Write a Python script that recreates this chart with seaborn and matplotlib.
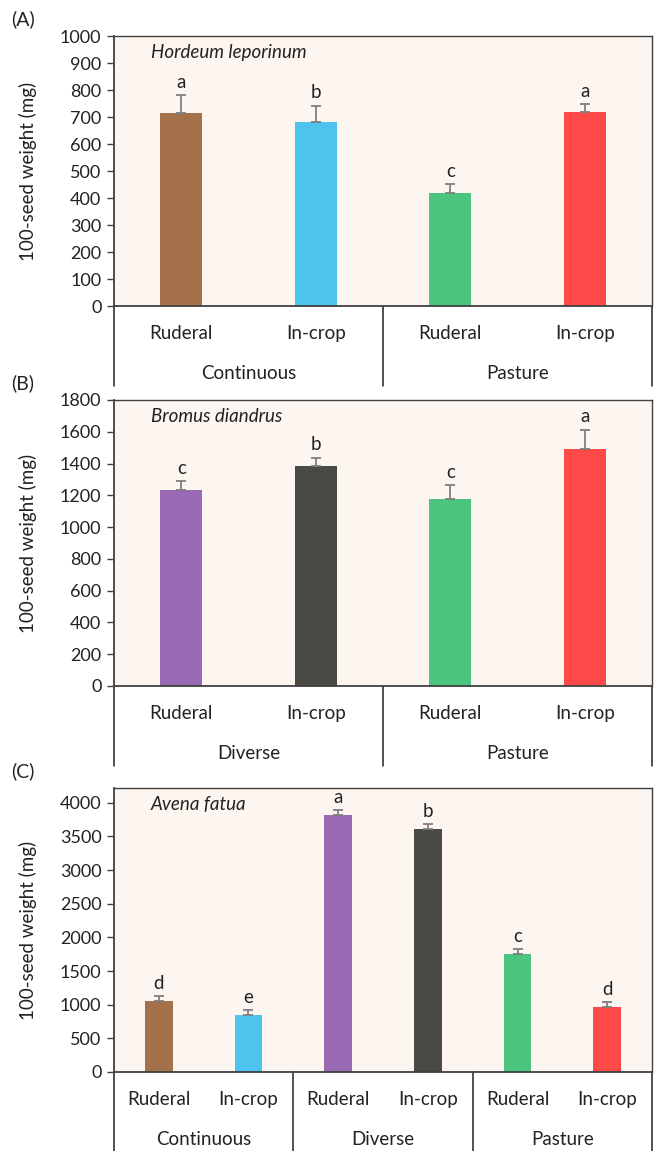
import matplotlib
matplotlib.use("Agg")
import matplotlib.pyplot as plt
import matplotlib.transforms as mtransforms
from matplotlib.lines import Line2D
import seaborn as sns
import pandas as pd

# ---------------- data ----------------
types_A = ["Ruderal", "In-crop", "Ruderal", "In-crop"]
groups_A = ["Continuous", "Pasture"]
values_A = [715, 681, 420, 719]
errors_A = [65, 61, 32, 29]
letters_A = ["a", "b", "c", "a"]
colors_A = ["#A5714A", "#4CC4EE", "#4AC47E", "#FF4848"]

types_B = ["Ruderal", "In-crop", "Ruderal", "In-crop"]
groups_B = ["Diverse", "Pasture"]
values_B = [1232, 1382, 1177, 1493]
errors_B = [60, 56, 88, 121]
letters_B = ["c", "b", "c", "a"]
colors_B = ["#9A6BB5", "#4A4A45", "#4AC47E", "#FF4848"]

types_C = ["Ruderal", "In-crop", "Ruderal", "In-crop", "Ruderal", "In-crop"]
groups_C = ["Continuous", "Diverse", "Pasture"]
values_C = [1059, 847, 3823, 3611, 1759, 961]
errors_C = [64, 79, 64, 79, 64, 83]
letters_C = ["d", "e", "a", "b", "c", "d"]
colors_C = ["#A5714A", "#4CC4EE", "#9A6BB5", "#4A4A45", "#4AC47E", "#FF4848"]

species = ["Hordeum leporinum", "Bromus diandrus", "Avena fatua"]
panel_tags = ["(A)", "(B)", "(C)"]
yticks_A = list(range(0, 1001, 100))
yticks_B = list(range(0, 1801, 200))
yticks_C = list(range(0, 4001, 500))

# ---------------- style ----------------
sns.set_theme(style="ticks")
plt.rcParams["font.family"] = ["Lato", "DejaVu Sans"]
plt.rcParams["axes.edgecolor"] = "#404040"

W, H = 656, 1151
fig = plt.figure(figsize=(W / 100, H / 100), dpi=100)
fig.patch.set_facecolor("white")

px_left, px_right = 114, 652
panel_rows = [(36, 306, 1000), (400, 686, 1800), (788, 1072, 4220)]

panels = [
    (types_A, groups_A, values_A, errors_A, letters_A, colors_A, yticks_A),
    (types_B, groups_B, values_B, errors_B, letters_B, colors_B, yticks_B),
    (types_C, groups_C, values_C, errors_C, letters_C, colors_C, yticks_C),
]

bg = "#FDF5EF"
txt = "#222222"
tick_fs = 13
cat_fs = 13.5

for i, (types, groups, vals, errs, lets, cols, yt) in enumerate(panels):
    top, bot, ymax = panel_rows[i]
    ax = fig.add_axes([px_left / W, 1 - bot / H, (px_right - px_left) / W, (bot - top) / H])
    ax.set_facecolor(bg)
    n = len(vals)
    per = n // len(groups)
    keys = [f"{groups[k // per]}|{types[k]}" for k in range(n)]
    df = pd.DataFrame({"key": keys, "value": vals})
    sns.barplot(data=df, x="key", y="value", hue="key", palette=cols, order=keys,
                hue_order=keys, width=0.31, errorbar=None, legend=False, ax=ax,
                saturation=1, linewidth=0)
    ax.errorbar(range(n), vals, yerr=[[0] * n, errs], fmt="none", ecolor="#7F7F7F",
                elinewidth=1.3, capsize=3.5, capthick=1.3, zorder=5)
    for k in range(n):
        ax.annotate(lets[k], (k, vals[k] + errs[k]), xytext=(0, 3), textcoords="offset points",
                    ha="center", va="bottom", fontsize=13.5, color=txt)
    ax.set_xlim(-0.5, n - 0.5)
    ax.set_ylim(0, ymax)
    ax.set_yticks(yt)
    ax.set_yticklabels([str(v) for v in yt], fontsize=tick_fs, color=txt)
    ax.tick_params(axis="y", direction="out", length=5, width=1, color="#404040", pad=4)
    ax.set_xticks([])
    ax.set_xlabel("")
    ax.set_ylabel("100-seed weight (mg)", fontsize=13.5, color=txt)
    ax.yaxis.set_label_coords(-0.143, 0.5)
    for sp in ax.spines.values():
        sp.set_visible(True)
        sp.set_color("#404040")
        sp.set_linewidth(1.0)
    ax.spines["bottom"].set_linewidth(1.3)
    ax.spines["left"].set_linewidth(1.3)

    ax.text(0.068, 1 - 16 / (bot - top), species[i], transform=ax.transAxes, fontsize=13.5,
            style="italic", ha="left", va="center", color=txt)

    # multi-level category axis
    blend = mtransforms.blended_transform_factory(ax.transData, ax.transAxes)

    def offs(dy):
        return blend + mtransforms.ScaledTranslation(0, -dy / 100, fig.dpi_scale_trans)

    bounds = [-0.5 + per * g for g in range(len(groups) + 1)]
    for b in bounds:
        seg = Line2D([b, b], [0, -80 / (bot - top)], transform=blend, clip_on=False,
                     color=txt, lw=1.1)
        ax.add_line(seg)
    for k in range(n):
        ax.text(k, 0, types[k], transform=offs(33), ha="center", va="baseline",
                fontsize=cat_fs, color=txt, clip_on=False)
    for g, name in enumerate(groups):
        xc = (bounds[g] + bounds[g + 1]) / 2
        ax.text(xc, 0, name, transform=offs(73), ha="center", va="baseline",
                fontsize=cat_fs, color=txt, clip_on=False)

    fig.text(11 / W, 1 - (top - 17) / H, panel_tags[i], fontsize=14, ha="left", va="center",
             color=txt)

fig.savefig("out.png", dpi=100, facecolor="white")
